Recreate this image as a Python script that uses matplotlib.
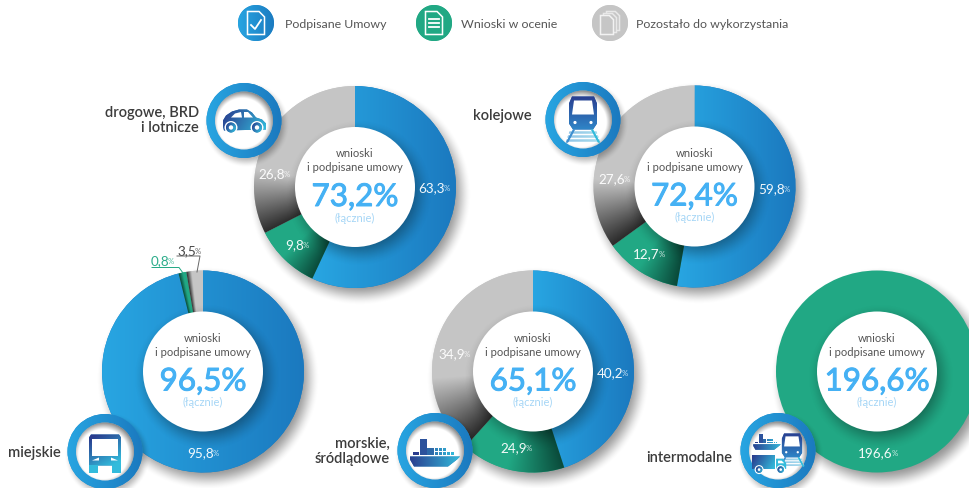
import numpy as np
import matplotlib
matplotlib.use('Agg')
import matplotlib.pyplot as plt
import matplotlib.patheffects as pe
from matplotlib.colors import to_rgb
from matplotlib.patches import Circle, Polygon, Rectangle

W, H = 969, 489
plt.rcParams['font.family'] = ['Lato', 'Noto Sans', 'DejaVu Sans']

categories = ['drogowe, BRD\ni lotnicze', 'kolejowe', 'miejskie', 'morskie,\nśródlądowe', 'intermodalne']
# printed values
podpisane = [63.3, 59.8, 95.8, 40.2, 0.0]
w_ocenie = [9.8, 12.7, 0.8, 24.9, 196.6]
pozostalo = [26.8, 27.6, 3.5, 34.9, 0.0]
lacznie = [73.2, 72.4, 96.5, 65.1, 196.6]
# the slices in the picture are not drawn to the printed values, so arc sizes
# are read off the picture separately (degrees, clockwise from the top)
arc_podpisane = [205, 190, 346, 162, 0]
arc_w_ocenie = [38, 44, 4.5, 60, 360]
arc_pozostalo = [117, 126, 9.5, 138, 0]
legend_labels = ['Podpisane Umowy', 'Wnioski w ocenie', 'Pozostało do wykorzystania']

BLUE_D, BLUE_L = '#1b79bf', '#28a6e2'
GREEN, GREEN_D = '#21a884', '#0a4a3a'
GREY, GREY_D = '#c6c6c6', '#2c2c2c'
NAVY, CYAN = '#2a3c8e', '#33bcdc'
TXT = '#3c3c3c'

# layout, all in pixels of the reference (y down)
centers = [(355, 188), (694.5, 187.5), (203, 372.5), (533, 372.5), (877, 372.5)]
R_OUT, R_IN = 101, 60
badges = [(244, 121.5), (583, 120.5), (105, 452.5), (435, 451.5), (778, 451.5)]
# split x and y of each value label: number ends where % starts
value_pos = [
    [(445, 188), (304, 245), (285, 174)],
    [(785, 189), (660, 254), (625, 179)],
    [(214, 453), (169, 261), (196, 251)],
    [(623, 373), (527, 448), (465, 354)],
    [None, (893, 453), None],
]

fig = plt.figure(figsize=(W / 100, H / 100), dpi=100)
ax = fig.add_axes([0, 0, 1, 1])
z_count = [1]


def nz():
    z_count[0] += 1
    return z_count[0]


def Y(y):
    return H - y


def grid(cx, cy, half):
    xs = np.linspace(cx - half, cx + half, int(half * 4))
    ys = np.linspace(Y(cy) - half, Y(cy) + half, int(half * 4))
    return np.meshgrid(xs, ys)


def show(rgba, cx, cy, half, clip=None):
    im = ax.imshow(rgba, extent=(cx - half, cx + half, Y(cy) - half, Y(cy) + half),
                   origin='lower', zorder=nz(), interpolation='bilinear', aspect='auto')
    if clip is not None:
        im.set_clip_path(clip)
    return im


def soft_shadow(cx, cy, r, dx, dy, blur, amax, clip=None):
    half = r + blur + max(abs(dx), abs(dy)) + 4
    X, YY = grid(cx, cy, half)
    d = np.hypot(X - (cx + dx), YY - (Y(cy) - dy))
    a = np.clip((r + blur - d) / (2 * blur), 0, 1)
    a = a * a * (3 - 2 * a) * amax
    rgba = np.zeros(a.shape + (4,))
    rgba[..., 3] = a
    show(rgba, cx, cy, half, clip)


def mix(c0, c1, t):
    c0 = np.array(to_rgb(c0))
    c1 = np.array(to_rgb(c1))
    t = np.clip(t, 0, 1)[..., None]
    return c0 * (1 - t) + c1 * t


def wedge_gradient(wedge, kind, cx, cy):
    half = R_OUT + 2
    X, YY = grid(cx, cy, half)
    if kind == 0:
        ext = wedge.get_path().get_extents(wedge.get_transform() - ax.transData)
        t = (X - ext.x0) / max(ext.width, 1)
        img = mix(BLUE_L, BLUE_D, t)
    else:
        ang = np.degrees(np.arctan2(YY - Y(cy), X - cx))
        span = wedge.theta2 - wedge.theta1
        t = np.mod(wedge.theta2 - ang, 360) / span
        t = np.where(t > 1.5, 0, t)
        if kind == 1:
            img = mix(GREEN_D, GREEN, t / 0.55)
        else:
            img = mix(GREY_D, GREY, t / 0.32)
    show(img, cx, cy, half, wedge)


def grad_patch(patch, c0=NAVY, c1=CYAN, angle=-30):
    # patch filled with a linear gradient
    patch.set(facecolor=mix(c0, c1, np.array(0.5)), edgecolor='none', zorder=nz())
    ax.add_patch(patch)
    ext = patch.get_window_extent().transformed(ax.transData.inverted())
    half = max(ext.width, ext.height) / 2 + 1
    cx, cy = (ext.x0 + ext.x1) / 2, Y((ext.y0 + ext.y1) / 2)
    X, YY = grid(cx, cy, max(half, 3))
    a = np.radians(angle)
    s = ((X - cx) * np.cos(a) + (YY - Y(cy)) * np.sin(a)) / max(half, 3)
    show(mix(c0, c1, (s + 1) / 2), cx, cy, max(half, 3), patch)


def poly(ox, oy, pts, s=1.0):
    return Polygon([(ox + x * s, Y(oy + y * s)) for x, y in pts], closed=True)


def white(p):
    p.set(facecolor='white', edgecolor='none', zorder=nz())
    ax.add_patch(p)


def car_icon(ox, oy):
    grad_patch(poly(ox, oy, [(-21, 6), (-21, 0), (-18, -5), (-12, -9), (-5, -11), (3, -11), (8, -8),
                             (12, -3), (18, -1), (22, 3), (22, 9), (-20, 10)]))
    white(poly(ox, oy, [(-13, -3), (-9, -7), (-3, -8.5), (-2, -3)]))
    white(poly(ox, oy, [(0, -8.5), (4, -8.5), (9, -3), (0, -3)]))
    for wx in (-13, 13):
        white(Circle((ox + wx, Y(oy + 7)), 6.5))
        grad_patch(Circle((ox + wx, Y(oy + 7)), 5))
        white(Circle((ox + wx, Y(oy + 7)), 2.2))


def train_icon(ox, oy, s=1.0):
    grad_patch(poly(ox, oy, [(-11, -25), (11, -25), (14, -18), (14, 2), (10, 8), (-10, 8), (-14, 2), (-14, -18)], s), NAVY, '#2f86c8', -90)
    white(poly(ox, oy, [(-9, -21), (9, -21), (11, -7), (-11, -7)], s))
    white(Circle((ox - 8 * s, Y(oy + 1 * s)), 1.6 * s))
    white(Circle((ox + 8 * s, Y(oy + 1 * s)), 1.6 * s))
    for y0, y1 in [(10, 12), (14, 16), (18, 20)]:
        hw0, hw1 = 10 + y0 * 0.35, 10 + y1 * 0.35
        grad_patch(poly(ox, oy, [(-hw0, y0), (hw0, y0), (hw1, y1), (-hw1, y1)], s), '#8fc0e6', '#a9e2ee')
    grad_patch(poly(ox, oy, [(-10, 8), (-17, 21), (-15, 21), (-8, 8)], s), '#3f8fd0', '#3f8fd0')
    grad_patch(poly(ox, oy, [(10, 8), (17, 21), (15, 21), (8, 8)], s), CYAN, CYAN)


def bus_icon(ox, oy):
    grad_patch(poly(ox, oy, [(-14, -17), (14, -17), (16, -14), (16, 14), (-16, 14), (-16, -14)]), NAVY, CYAN, -60)
    white(poly(ox, oy, [(-13, -13), (13, -13), (13, 4), (-13, 4)]))
    white(poly(ox, oy, [(-13, 9), (-6, 6), (-6, 9)]))
    white(poly(ox, oy, [(13, 9), (6, 6), (6, 9)]))
    grad_patch(Rectangle((ox - 16, Y(oy + 21)), 9, 8), CYAN, CYAN)
    grad_patch(Rectangle((ox + 7, Y(oy + 21)), 9, 8), CYAN, CYAN)


def ship_icon(ox, oy, s=1.0):
    grad_patch(poly(ox, oy, [(-25, 5), (25, 5), (22, 8), (13, 15), (-21, 15), (-25, 8)], s), angle=0)
    blocks = [(-22, 0, 6, 3), (-15, -13, 7, 16), (-8, -4, 7, 7), (0, -4, 3, 3), (4, -4, 3, 3), (8, -4, 3, 3),
              (0, 0, 3, 3), (4, 0, 3, 3), (8, 0, 3, 3), (12, 0, 3, 3), (16, 0, 3, 3)]
    for bx, by, bw, bh in blocks:
        ax.add_patch(Rectangle((ox + bx * s, Y(oy + (by + bh) * s)), bw * s, bh * s,
                               facecolor=mix(NAVY, CYAN, np.array((bx + 22) / 40)),
                               edgecolor='none', zorder=nz()))


def truck_icon(ox, oy, s=1.0):
    grad_patch(Rectangle((ox - 19 * s, Y(oy + 8 * s)), 25 * s, 15 * s))
    grad_patch(poly(ox, oy, [(8, -3), (15, -3), (19, 2), (19, 8), (8, 8)], s), CYAN, CYAN)
    white(poly(ox, oy, [(10, -1), (14, -1), (17, 2), (10, 2)], s))
    for wx in (-11, 13):
        white(Circle((ox + wx * s, Y(oy + 9 * s)), 5 * s))
        grad_patch(Circle((ox + wx * s, Y(oy + 9 * s)), 3.6 * s), NAVY, CYAN)
        white(Circle((ox + wx * s, Y(oy + 9 * s)), 1.5 * s))


def badge(cx, cy, R=37.5, r=29):
    soft_shadow(cx, cy, R, 3, 4, 6, 0.3)
    disc = Circle((cx, Y(cy)), R)
    grad_patch(disc, BLUE_L, BLUE_D, angle=0)
    inner = Circle((cx, Y(cy)), r, facecolor='white', edgecolor='none', zorder=nz())
    ax.add_patch(inner)
    # dark rim inside the badge, heavier at the top right
    half = r + 1
    X, YY = grid(cx, cy, half)
    d = np.hypot(X - (cx - 1.5), YY - (Y(cy) - 3))
    a = np.clip((d - (r - 4)) / 8, 0, 1) * 0.55
    rgba = np.zeros(a.shape + (4,))
    rgba[..., 3] = a
    show(rgba, cx, cy, half, inner)


def value_label(x, y, v, color='white'):
    s = f'{v:.1f}'.replace('.', ',')
    ax.text(x, Y(y), s, ha='right', va='center', color=color, fontsize=9.7, zorder=nz(), alpha=0.95)
    ax.text(x - 1, Y(y + 0.5), '%', ha='left', va='center', color=color, fontsize=5.6, zorder=nz(), alpha=0.8)


# donuts
for i, (cx, cy) in enumerate(centers):
    vals = [podpisane[i], w_ocenie[i], pozostalo[i]]
    arcs = [arc_podpisane[i], arc_w_ocenie[i], arc_pozostalo[i]]
    soft_shadow(cx, cy, R_OUT, 5, 7, 11, 0.42)
    wedges, _ = ax.pie(arcs, colors=[BLUE_D, GREEN, GREY], startangle=90, counterclock=False,
                       radius=R_OUT, center=(cx, Y(cy)),
                       wedgeprops={'width': R_OUT - R_IN + 1, 'edgecolor': 'none', 'zorder': nz()})
    if sum(a > 0 for a in arcs) > 1:
        for kind, w in enumerate(wedges):
            wedge_gradient(w, kind, cx, cy)
    ring_clip = Circle((cx, Y(cy)), R_OUT, transform=ax.transData)
    soft_shadow(cx, cy, R_IN, 4, 6, 14, 0.38, ring_clip)
    ax.add_patch(Circle((cx, Y(cy)), R_IN, facecolor='white', edgecolor='none', zorder=nz()))
    ax.text(cx, Y(cy - 34), 'wnioski', ha='center', va='center', fontsize=8.1, color='#555555', zorder=nz())
    ax.text(cx, Y(cy - 20), 'i podpisane umowy', ha='center', va='center', fontsize=8.1, color='#555555', zorder=nz())
    big = ax.text(cx, Y(cy + 10), f'{lacznie[i]:.1f}%'.replace('.', ','), ha='center', va='center',
                  fontsize=22.6, color='#45b1f4', zorder=nz())
    big.set_path_effects([pe.withStroke(linewidth=0.7, foreground='#45b1f4')])
    ax.text(cx, Y(cy + 30), '(łącznie)', ha='center', va='center', fontsize=8, color='#a6d6f6', zorder=nz())
    for kind, (v, pos) in enumerate(zip(vals, value_pos[i])):
        if pos is None:
            continue
        col = 'white'
        if i == 2 and kind == 1:
            col = GREEN
        if i == 2 and kind == 2:
            col = TXT
        value_label(pos[0], pos[1], v, col)

# leader lines for the two thin slices
ax.plot([152, 179, 183], [Y(268.5), Y(268.5), Y(274)], color=GREEN, lw=0.7, zorder=nz())
ax.plot([177, 200, 197], [Y(257), Y(257), Y(273)], color='#666666', lw=0.7, zorder=nz())

# category badges
for cx, cy in badges:
    badge(cx, cy)
car_icon(*badges[0])
train_icon(badges[1][0], badges[1][1] + 2)
bus_icon(badges[2][0], badges[2][1])
ship_icon(badges[3][0], badges[3][1] + 1)
mx, my = badges[4]
ship_icon(mx - 11, my - 9, 0.55)
train_icon(mx + 14, my + 1, 0.72)
truck_icon(mx - 9, my + 11, 0.9)

# category labels
cat_pos = [(199, 120.5), (532, 116), (61, 453), (390, 451.5), (732, 458)]
for name, (x, y) in zip(categories, cat_pos):
    ax.text(x, Y(y), name, ha='right', va='center', fontsize=10.5, fontweight='semibold', color=TXT,
            linespacing=1.15, zorder=nz())

# legend
leg_icons = [(256, 24), (434, 24), (610, 24)]
leg_cols = [(BLUE_L, BLUE_D), (GREEN, GREEN), (GREY, GREY)]
leg_text_x = [285, 461, 636]
for (x, y), (c0, c1), name, tx in zip(leg_icons, leg_cols, legend_labels, leg_text_x):
    grad_patch(Circle((x, Y(y)), 18), c0, c1, angle=0)
    ax.text(tx, Y(y + 1), name, ha='left', va='center', fontsize=8.9, color='#555555', zorder=nz())


def page(ox, oy, w, h, col='white', lw=1.1, face='none'):
    fold = w * 0.32
    pts = [(-w / 2, -h / 2), (w / 2 - fold, -h / 2), (w / 2, -h / 2 + fold), (w / 2, h / 2), (-w / 2, h / 2)]
    p = poly(ox, oy, pts)
    p.set(facecolor=face, edgecolor=col, linewidth=lw, zorder=nz())
    ax.add_patch(p)


page(256, 24, 17, 23)
ax.plot([251, 255, 261], [Y(26), Y(30), Y(21)], color='white', lw=1.3, zorder=nz())
page(434, 24, 17, 23)
for ly in (20, 24, 28):
    ax.plot([429, 439], [Y(ly), Y(ly)], color='white', lw=1.3, zorder=nz())
page(613, 22, 13, 19, col='#e8e8e8', face=GREY)
page(610, 24, 13, 19, col='#e8e8e8', face=GREY)
page(607, 26, 13, 19, col='#f2f2f2', face=GREY)

ax.set_aspect('auto')
ax.set_xlim(0, W)
ax.set_ylim(0, H)
ax.axis('off')
fig.savefig('out.png', dpi=100, facecolor='white')
